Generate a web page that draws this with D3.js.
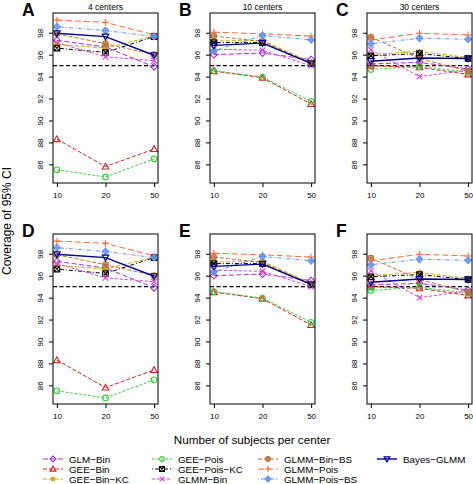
<!DOCTYPE html>
<html><head><meta charset="utf-8">
<script src="https://cdn.jsdelivr.net/npm/d3@7"></script>
<style>body{margin:0;background:#fff;} text{font-family:"Liberation Sans",Arial,Helvetica,sans-serif;fill:#000;}</style>
</head><body><svg id="c" width="473" height="484"></svg>
<script>
// ---------------- data ----------------
const xLabels = ["10", "20", "50"];
const yTicks = [86, 88, 90, 92, 94, 96, 98];
const refLine = 95;
const panelLetters = ["A", "B", "C", "D", "E", "F"];
const panelTitles = ["4 centers", "10 centers", "30 centers"];
const methods = ["GLM\u2212Bin", "GEE\u2212Bin", "GEE\u2212Bin\u2212KC", "GEE\u2212Pois", "GEE\u2212Pois\u2212KC",
  "GLMM\u2212Bin", "GLMM\u2212Bin\u2212BS", "GLMM\u2212Pois", "GLMM\u2212Pois\u2212BS", "Bayes\u2212GLMM"];
// coverage (%) per method, for 10 / 20 / 50 subjects per center
const cov4 = [
  [97.3, 96.7, 94.9],
  [88.3, 85.8, 87.4],
  [96.95, 96.6, 97.7],
  [85.5, 84.85, 86.5],
  [96.6, 96.2, 97.65],
  [97.1, 95.8, 95.45],
  [97.9, 97.0, 96.0],
  [99.15, 98.95, 97.8],
  [98.55, 98.2, 97.65],
  [97.95, 97.65, 95.95]
];
const cov10 = [
  [96.0, 96.15, 95.55],
  [94.5, 93.9, 91.5],
  [97.25, 97.3, 95.3],
  [94.55, 93.95, 91.75],
  [97.1, 97.1, 95.2],
  [96.5, 96.4, 95.0],
  [97.7, 97.2, 95.25],
  [98.05, 97.9, 97.7],
  [96.35, 97.75, 97.35],
  [96.85, 97.05, 95.2]
];
const cov30 = [
  [95.15, 95.3, 94.7],
  [95.0, 94.85, 94.2],
  [96.0, 96.3, 95.75],
  [94.65, 94.95, 94.4],
  [95.9, 96.1, 95.65],
  [96.45, 94.0, 94.6],
  [97.6, 95.65, 94.5],
  [97.35, 97.95, 97.8],
  [97.0, 97.5, 97.4],
  [95.4, 95.7, 95.65]
];
const panelData = [cov4, cov10, cov30, cov4, cov10, cov30];

// ---------------- styles ----------------
const colors = ["#9A32CD", "#D42424", "#CDAA00", "#33CC33", "#000000",
  "#E23CE2", "#B8733B", "#FF6A3A", "#6495ED", "#00008B"];
const dashes = ["5,2.5", "4,2", "4,2", "2.5,2", "1,2,4,2", "3,2", "4,2", "6,3", "1,2,4,2", null];
const shapes = ["diamond", "triUp", "asterisk", "circle", "boxX", "x", "circlePlus", "plus", "diamondPlus", "triDown"];
const widths = [1, 1, 1, 1, 1, 1, 1, 1, 1, 1.4];

const svg = d3.select("#c");
const colX = [53, 210, 367], pw = 105;
const rowY = [13, 234], ph = 170;

function marker(g, shape, x, y, col, s) {
  s = s || 2.8;
  let d = "";
  let fill = "none";
  switch (shape) {
    case "diamond": d = `M${x},${y - s - 0.6}L${x + s + 0.6},${y}L${x},${y + s + 0.6}L${x - s - 0.6},${y}Z`; break;
    case "triUp": d = `M${x},${y - s - 0.5}L${x + s + 0.5},${y + s - 0.3}L${x - s - 0.5},${y + s - 0.3}Z`; break;
    case "triDown": d = `M${x},${y + s + 0.5}L${x + s + 0.5},${y - s + 0.3}L${x - s - 0.5},${y - s + 0.3}Z`; break;
    case "asterisk": d = `M${x - s},${y}H${x + s}M${x},${y - s}V${y + s}M${x - s * .75},${y - s * .75}L${x + s * .75},${y + s * .75}M${x - s * .75},${y + s * .75}L${x + s * .75},${y - s * .75}`; break;
    case "circle": d = `M${x + s},${y}A${s},${s} 0 1,1 ${x - s},${y}A${s},${s} 0 1,1 ${x + s},${y}`; break;
    case "boxX": d = `M${x - s},${y - s}H${x + s}V${y + s}H${x - s}ZM${x - s},${y - s}L${x + s},${y + s}M${x - s},${y + s}L${x + s},${y - s}`; break;
    case "x": d = `M${x - s},${y - s}L${x + s},${y + s}M${x - s},${y + s}L${x + s},${y - s}`; break;
    case "circlePlus": d = `M${x + s},${y}A${s},${s} 0 1,1 ${x - s},${y}A${s},${s} 0 1,1 ${x + s},${y}M${x - s},${y}H${x + s}M${x},${y - s}V${y + s}`; fill = col; break;
    case "plus": d = `M${x - s - 0.6},${y}H${x + s + 0.6}M${x},${y - s - 0.6}V${y + s + 0.6}`; break;
    case "diamondPlus": d = `M${x},${y - s - 0.6}L${x + s + 0.6},${y}L${x},${y + s + 0.6}L${x - s - 0.6},${y}ZM${x - s},${y}H${x + s}M${x},${y - s}V${y + s}`; fill = col; break;
  }
  g.append("path").attr("d", d).attr("fill", fill).attr("fill-opacity", fill === "none" ? 1 : 0.55)
    .attr("stroke", col).attr("stroke-width", 1.1);
}

panelData.forEach((data, pi) => {
  const c = pi % 3, r = Math.floor(pi / 3);
  const x0 = colX[c], y0 = rowY[r];
  const x = d3.scalePoint().domain(xLabels).range([x0, x0 + pw]).padding(0.08);
  const y = d3.scaleLinear().domain([84.3, 99.8]).range([y0 + ph, y0]);
  const g = svg.append("g");

  // axes
  const ax = g.append("g").attr("transform", `translate(0,${y0 + ph})`)
    .call(d3.axisBottom(x).tickSize(4).tickPadding(5));
  ax.select(".domain").remove();
  ax.selectAll("text").attr("font-size", 8).attr("font-family", "Liberation Sans, Arial, sans-serif").attr("fill", "#000");
  ax.selectAll("line").attr("stroke", "#000");
  const ay = g.append("g").attr("transform", `translate(${x0},0)`)
    .call(d3.axisLeft(y).tickValues(yTicks).tickSize(4).tickPadding(0).tickFormat(d3.format("d")));
  ay.select(".domain").remove();
  ay.selectAll("line").attr("stroke", "#000");
  ay.selectAll("text").attr("font-size", 8).attr("font-family", "Liberation Sans, Arial, sans-serif").attr("fill", "#000")
    .attr("x", null).attr("dy", null).attr("text-anchor", "middle")
    .attr("transform", "translate(-10,0) rotate(-90)");

  // reference line
  g.append("line").attr("x1", x0).attr("x2", x0 + pw).attr("y1", y(refLine)).attr("y2", y(refLine))
    .attr("stroke", "#000").attr("stroke-width", 1.3).attr("stroke-dasharray", "4,2.5");

  // series
  data.forEach((vals, si) => {
    const line = d3.line().x((d, i) => x(xLabels[i])).y(d => y(d));
    g.append("path").attr("d", line(vals)).attr("fill", "none").attr("stroke", colors[si])
      .attr("stroke-width", widths[si]).attr("stroke-dasharray", dashes[si]);
    vals.forEach((v, i) => marker(g, shapes[si], x(xLabels[i]), y(v), colors[si]));
  });

  // frame
  g.append("rect").attr("x", x0).attr("y", y0).attr("width", pw).attr("height", ph)
    .attr("fill", "none").attr("stroke", "#000").attr("stroke-width", 1);

  // letter + title
  g.append("text").attr("x", x0 - 31).attr("y", y0 + 3).attr("font-size", 17.5).attr("font-weight", "bold").text(panelLetters[pi]);
  if (r === 0) g.append("text").attr("x", x0 + pw / 2).attr("y", y0 - 3.5).attr("text-anchor", "middle").attr("font-size", 8.5).text(panelTitles[c]);
});

// axis titles
svg.append("text").attr("transform", "translate(11,221) rotate(-90)").attr("text-anchor", "middle").attr("font-size", 12).text("Coverage of 95% CI");
svg.append("text").attr("x", 252).attr("y", 444).attr("text-anchor", "middle").attr("font-size", 11.7).text("Number of subjects per center");

// legend
const legCols = [43, 152, 258, 377];
const legRows = [459, 469, 479];
methods.forEach((m, i) => {
  const c = i < 3 ? 0 : i < 6 ? 1 : i < 9 ? 2 : 3;
  const r = i < 9 ? i % 3 : 0;
  const lx = legCols[c], ly = legRows[r];
  const g = svg.append("g");
  g.append("line").attr("x1", lx).attr("x2", lx + 20).attr("y1", ly).attr("y2", ly)
    .attr("stroke", colors[i]).attr("stroke-width", widths[i]).attr("stroke-dasharray", dashes[i]);
  marker(g, shapes[i], lx + 10, ly, colors[i], 2.4);
  g.append("text").attr("x", lx + 26).attr("y", ly + 3.5).attr("font-size", 9.8).text(m);
});
</script></body></html>
